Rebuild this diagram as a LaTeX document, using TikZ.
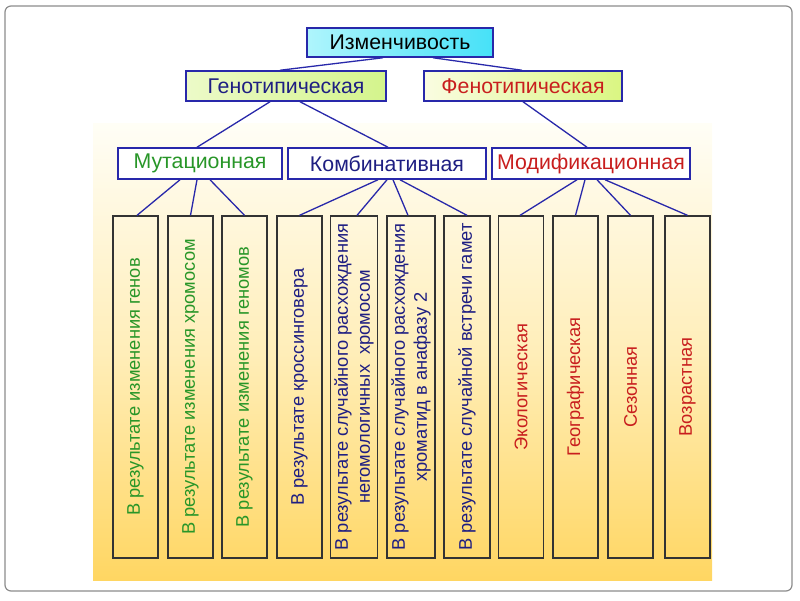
\documentclass[tikz,border=0pt]{standalone}
\usepackage{fontspec}
\setmainfont{Liberation Sans}
\definecolor{linkblue}{RGB}{40,40,170}
\definecolor{mutgreen}{RGB}{40,150,40}
\definecolor{kombblue}{RGB}{30,30,130}
\definecolor{modred}{RGB}{200,30,30}
\definecolor{izmL}{RGB}{175,245,252}
\definecolor{izmR}{RGB}{70,225,248}
\definecolor{genoL}{RGB}{236,250,200}
\definecolor{genoR}{RGB}{212,244,140}
\definecolor{fenoL}{RGB}{250,252,225}
\definecolor{fenoR}{RGB}{218,246,130}
\definecolor{bgtop}{RGB}{255,254,246}
\definecolor{bgmid}{RGB}{255,238,185}
\definecolor{bgbot}{RGB}{255,214,98}
\begin{document}
\begin{tikzpicture}[x=1pt,y=-1pt,
    box/.style={draw=linkblue, line width=1.5pt, inner sep=0pt, minimum height=30pt, font=\fontsize{21.3}{25}\selectfont},
    leaf/.style={draw=black!80, line width=1.3pt, rotate=90, minimum width=342pt, minimum height=45pt, inner sep=0pt, align=center, font=\fontsize{18.3}{22}\selectfont},
    link/.style={draw=linkblue, line width=1.3pt}]
  \useasboundingbox (0,0) rectangle (800,600);
  \draw[black!45, line width=1.2pt, rounded corners=6pt] (5,6) rectangle (792,591);
  \shade[top color=bgtop, bottom color=bgbot, middle color=bgmid] (93,123) rectangle (712,580);
  % top levels
  \node[box, minimum width=186pt, minimum height=29pt, left color=izmL, right color=izmR] (izm) at (400,42.5) {Изменчивость};
  \node[box, minimum width=200pt, left color=genoL, right color=genoR, text=kombblue] (geno) at (286,86) {Генотипическая};
  \node[box, minimum width=198pt, left color=fenoL, right color=fenoR, text=modred] (feno) at (523,86) {Фенотипическая};
  \node[box, minimum width=164pt, minimum height=31pt, fill=white, text=mutgreen] (mut) at (200,163.5) {Мутационная};
  \node[box, minimum width=198pt, minimum height=31pt, fill=white, text=kombblue] (komb) at (387,163.5) {Комбинативная};
  \node[box, minimum width=198pt, minimum height=31pt, fill=white, text=modred] (mod) at (591,163.5) {Модификационная};
  % leaves
  \node[leaf, text=mutgreen] (geny) at (135.5,387) {В результате изменения генов};
  \node[leaf, text=mutgreen] (hrom) at (190.5,387) {В результате изменения хромосом};
  \node[leaf, text=mutgreen] (genom) at (244.5,387) {В результате изменения геномов};
  \node[leaf, text=kombblue] (cross) at (299.5,387) {В результате кроссинговера};
  \node[leaf, text=kombblue, minimum height=47pt] (neg) at (354,387) {В результате случайного расхождения\\негомологичных\ \ хромосом};
  \node[leaf, text=kombblue, minimum height=48pt] (anaf) at (411,387) {В результате случайного расхождения\\хроматид в анафазу 2};
  \node[leaf, text=kombblue, minimum height=46pt] (gamet) at (467,387) {В результате случайной встречи гамет};
  \node[leaf, text=modred] (eko) at (521,387) {Экологическая};
  \node[leaf, text=modred] (geo) at (575.5,387) {Географическая};
  \node[leaf, text=modred] (sez) at (630.5,387) {Сезонная};
  \node[leaf, text=modred] (vozr) at (687.5,387) {Возрастная};
  % links
  \draw[link] ([xshift=-17pt]izm.south) -- ([xshift=-6pt]geno.north);
  \draw[link] ([xshift=33pt]izm.south) -- ([xshift=-1pt]feno.north);
  \draw[link] ([xshift=-16pt]geno.south) -- ([xshift=-3pt]mut.north);
  \draw[link] ([xshift=14pt]geno.south) -- ([xshift=1pt]komb.north);
  \draw[link] (feno.south) -- ([xshift=-4pt]mod.north);
  \draw[link] ([xshift=-20pt]mut.south) -- ([xshift=1.5pt]geny.east);
  \draw[link] ([xshift=-3pt]mut.south) -- (hrom.east);
  \draw[link] ([xshift=10pt]mut.south) -- (genom.east);
  \draw[link] ([xshift=-9pt]komb.south) -- (cross.east);
  \draw[link] (komb.south) -- ([xshift=3pt]neg.east);
  \draw[link] ([xshift=6pt]komb.south) -- ([xshift=-3pt]anaf.east);
  \draw[link] ([xshift=13pt]komb.south) -- (gamet.east);
  \draw[link] ([xshift=-14pt]mod.south) -- ([xshift=-1pt]eko.east);
  \draw[link] ([xshift=-6pt]mod.south) -- (geo.east);
  \draw[link] ([xshift=6pt]mod.south) -- (sez.east);
  \draw[link] ([xshift=14pt]mod.south) -- (vozr.east);
\end{tikzpicture}
\end{document}
